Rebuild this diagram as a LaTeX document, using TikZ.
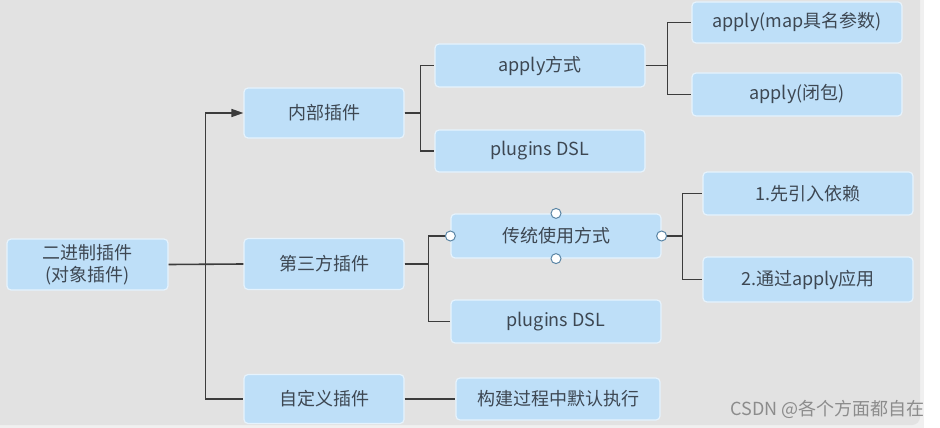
\documentclass[tikz,border=0pt]{standalone}
\usepackage{fontspec}
\setmainfont{Noto Sans CJK SC}
\usetikzlibrary{positioning}
\usetikzlibrary{arrows.meta}
\definecolor{bggray}{HTML}{E2E2E2}
\definecolor{boxblue}{HTML}{BEDFF8}
\definecolor{boxedge}{HTML}{E6F3FD}
\definecolor{txtgray}{HTML}{3D4752}
\definecolor{linegray}{HTML}{3C3C3C}
\definecolor{handleedge}{HTML}{5B86A6}
\tikzset{>={Triangle[length=12pt,width=8pt]}}
\tikzset{
	% boxes of the mind map
	topic/.style={rectangle,rounded corners=4pt,fill=boxblue,draw=boxedge,line width=1.2pt,
		text=txtgray,font=\fontsize{18}{22}\selectfont,align=center,inner sep=0pt},
	% connector style
	link/.style={draw=linegray,line width=1.6pt},
	% selection handles
	handle/.style={circle,fill=white,draw=handleedge,line width=1pt,minimum size=10pt,inner sep=0pt},
}
\begin{document}
\begin{tikzpicture}[x=1pt,y=-1pt]
\useasboundingbox (0,0) rectangle (940,428);
% canvas
\fill[white] (0,0) rectangle (940,428);
\fill[black!6] (-10,-10) rectangle (924,428);
\fill[bggray,rounded corners=8pt] (-10,-10) rectangle (920,425);
% left column
\node[topic,minimum width=161pt,minimum height=51pt] (root) at (87.5,264.5) {二进制插件\\(对象插件)};
\node[topic,minimum width=160pt,minimum height=50pt] (inner) at (324,113) {内部插件};
\node[topic,minimum width=160pt,minimum height=51pt] (third) at (324,264) {第三方插件};
\node[topic,minimum width=160pt,minimum height=49pt] (custom) at (324,399) {自定义插件};
% second level
\node[topic,minimum width=210pt,minimum height=43pt] (applyway) at (540,65.5) {apply方式};
\node[topic,minimum width=210pt,minimum height=42pt] (dslinner) at (540,151) {plugins DSL};
\node[topic,minimum width=210pt,minimum height=44pt] (classic) at (556,236) {传统使用方式};
\node[topic,minimum width=210pt,minimum height=43pt] (dslthird) at (556,321.5) {plugins DSL};
\node[topic,minimum width=204pt,minimum height=42pt] (build) at (558,399) {构建过程中默认执行};
% third level
\node[topic,minimum width=210pt,minimum height=41pt] (mapargs) at (797,22.5) {apply(map具名参数)};
\node[topic,minimum width=210pt,minimum height=43pt] (closure) at (797,94.5) {apply(闭包)};
\node[topic,minimum width=210pt,minimum height=43pt] (adddep) at (808,193.5) {1.先引入依赖};
\node[topic,minimum width=210pt,minimum height=45pt] (useapply) at (808,279.5) {2.通过apply应用};
% connectors
\draw[link] (root.east) -- (third.west);
\draw[link,->] (root.east) -- ++(37,0) |- (inner.west);
\draw[link] (root.east) -- ++(37,0) |- (custom.west);
\draw[link] (inner.east) -- ++(16,0) |- (applyway.west);
\draw[link] (inner.east) -- ++(16,0) |- (dslinner.west);
\draw[link] (applyway.east) -- ++(22,0) |- (mapargs.west);
\draw[link] (applyway.east) -- ++(22,0) |- (closure.west);
\draw[link] (third.east) -- ++(24,0) |- (classic.west);
\draw[link] (third.east) -- ++(24,0) |- (dslthird.west);
\draw[link] (classic.east) -- ++(21,0) |- (adddep.west);
\draw[link] (classic.east) -- ++(21,0) |- (useapply.west);
\draw[link] (custom.east) -- (build.west);
% handles of the selected box
\foreach \side in {north,south,east,west}
  \node[handle] (grip-\side) at (classic.\side) {};
% watermark
\node[text=black!45,font=\fontsize{18}{20}\selectfont,anchor=east,inner sep=0pt] (mark) at (925,409) {CSDN @各个方面都自在};
\end{tikzpicture}
\end{document}
